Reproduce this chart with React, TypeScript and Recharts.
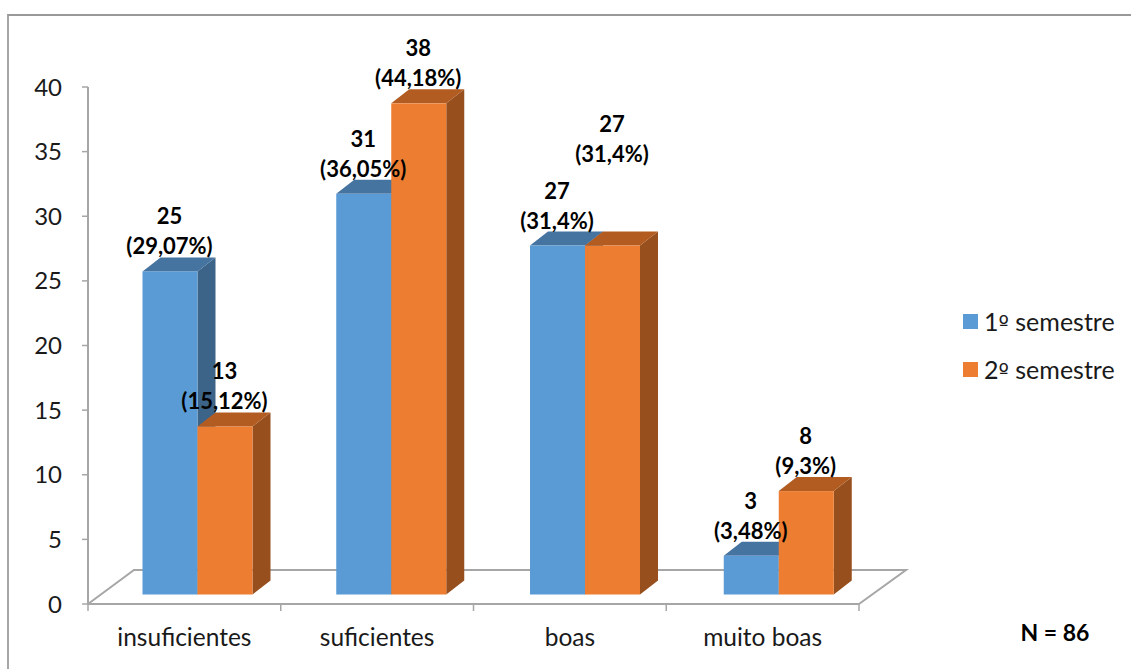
import React from 'react';
import { BarChart, Bar, XAxis, YAxis, Legend, LabelList } from 'recharts';

const categories = ['insuficientes', 'suficientes', 'boas', 'muito boas'];
const firstSemester = [25, 31, 27, 3];
const secondSemester = [13, 38, 27, 8];
const firstShares = ['(29,07%)', '(36,05%)', '(31,4%)', '(3,48%)'];
const secondShares = ['(15,12%)', '(44,18%)', '(31,4%)', '(9,3%)'];
const yTicks = [0, 5, 10, 15, 20, 25, 30, 35, 40];
const seriesNames = ['1º semestre', '2º semestre'];
const sampleSize = 'N = 86';

const FONT = 'Lato, "Noto Sans", sans-serif';
const AXIS = '#a6a6a6';
const BLUE = { front: '#5b9bd5', top: '#4674a0', side: '#3c6488' };
const ORANGE = { front: '#ed7d31', top: '#b25c22', side: '#984f1e' };
const W = 1131;
const H = 669;
const yAxisWidth = 88;
const xAxisHeight = 65;
const margin = { top: 87, right: 272, bottom: 0, left: 0 };
const shiftX = 13.5;
const shiftY = -9.5;
const depthX = 18;
const depthY = -14;
const drift = 1;
const bandWidth = (W - yAxisWidth - margin.right) / categories.length;

const data = categories.map((name, i) => ({
  name,
  first: firstSemester[i],
  second: secondSemester[i],
}));

function Box3D(props: any) {
  const { x, y, width, height, colors, index } = props;
  const l = x + shiftX + index * drift;
  const r = l + width;
  const t = y + shiftY;
  const b = t + height;
  return (
    <g>
      <polygon points={`${r},${t} ${r + depthX},${t + depthY} ${r + depthX},${b + depthY} ${r},${b}`} fill={colors.side} />
      <polygon points={`${l},${t} ${l + depthX},${t + depthY} ${r + depthX},${t + depthY} ${r},${t}`} fill={colors.top} />
      <rect x={l} y={t} width={width} height={height} fill={colors.front} />
    </g>
  );
}

function makeLabel(values: number[], shares: string[], raised: number) {
  return function BarLabel(props: any) {
    const { x, y, width, index } = props;
    const cx = x + shiftX + index * drift + width / 2 - 0.5;
    const lift = index === raised ? 67 : 0;
    const top = y + shiftY - lift;
    const style = { fontFamily: FONT, fontSize: 22, fontWeight: 700, fill: '#000' };
    return (
      <g>
        <text x={cx} y={top - 47} textAnchor="middle" style={style}>{values[index]}</text>
        <text x={cx} y={top - 17} textAnchor="middle" style={style}>{shares[index]}</text>
      </g>
    );
  };
}

function CategoryTick(props: any) {
  const { x, payload, index } = props;
  const axisY = 604;
  const left = x - bandWidth / 2;
  const right = x + bandWidth / 2;
  return (
    <g>
      <line x1={left} y1={axisY} x2={left} y2={axisY + 7} stroke={AXIS} strokeWidth={1.5} />
      {index === categories.length - 1 && (
        <line x1={right} y1={axisY} x2={right} y2={axisY + 7} stroke={AXIS} strokeWidth={1.5} />
      )}
      <text x={x} y={axisY + 42} textAnchor="middle" style={{ fontFamily: FONT, fontSize: 24.5, fill: '#1a1a1a' }}>
        {payload.value}
      </text>
    </g>
  );
}

function LegendBox() {
  const colors = [BLUE.front, ORANGE.front];
  return (
    <div style={{ fontFamily: FONT, fontSize: 25, color: '#1a1a1a' }}>
      {seriesNames.map((n, i) => {
        const [head, tail] = n.split('º');
        return (
          <div key={n} style={{ display: 'flex', alignItems: 'center', height: 48, whiteSpace: 'pre' }}>
            <span style={{ width: 15, height: 15, background: colors[i], marginRight: 6, display: 'inline-block' }} />
            <span>
              {head}
              <span style={{ fontFamily: '"DejaVu Sans"', fontSize: 22 }}>º</span>
              {tail}
            </span>
          </div>
        );
      })}
    </div>
  );
}

export default function App() {
  return (
    <div style={{ position: 'absolute', left: 0, top: 0, width: W, height: H, background: '#fff' }}>
      <div style={{ position: 'absolute', left: 7, top: 14, width: W - 7, height: H - 14, borderLeft: '2px solid #a6a6a6', borderTop: '2px solid #999', boxSizing: 'border-box' }} />
      <BarChart
        width={W}
        height={H}
        data={data}
        margin={margin}
        barSize={55}
        barGap={0}
        style={{ position: 'absolute', left: 0, top: 0 }}
      >
        <polyline
          points={`${yAxisWidth},604 134,570 906,570 859,604`}
          fill="none"
          stroke={AXIS}
          strokeWidth={2}
        />
        <XAxis
          dataKey="name"
          height={xAxisHeight}
          axisLine={{ stroke: AXIS, strokeWidth: 2 }}
          tickLine={false}
          tick={<CategoryTick />}
          interval={0}
        />
        <YAxis
          domain={[0, 40]}
          ticks={yTicks}
          interval={0}
          width={yAxisWidth}
          axisLine={{ stroke: AXIS, strokeWidth: 2 }}
          tickLine={{ stroke: AXIS, strokeWidth: 1.5 }}
          tickSize={6}
          tickMargin={20}
          tick={{ fontFamily: FONT, fontSize: 24, fill: '#1a1a1a' }}
        />
        <Legend
          layout="vertical"
          align="center"
          verticalAlign="middle"
          wrapperStyle={{ left: 963, top: 297, width: 168 }}
          content={<LegendBox />}
        />
        <Bar dataKey="first" isAnimationActive={false} shape={(p: any) => <Box3D {...p} colors={BLUE} />}>
          <LabelList dataKey="first" content={makeLabel(firstSemester, firstShares, -1)} />
        </Bar>
        <Bar dataKey="second" isAnimationActive={false} shape={(p: any) => <Box3D {...p} colors={ORANGE} />}>
          <LabelList dataKey="second" content={makeLabel(secondSemester, secondShares, 2)} />
        </Bar>
        <text x={1055} y={641} textAnchor="middle" style={{ fontFamily: FONT, fontSize: 23, fontWeight: 700, fill: '#000' }}>
          {sampleSize}
        </text>
      </BarChart>
    </div>
  );
}
